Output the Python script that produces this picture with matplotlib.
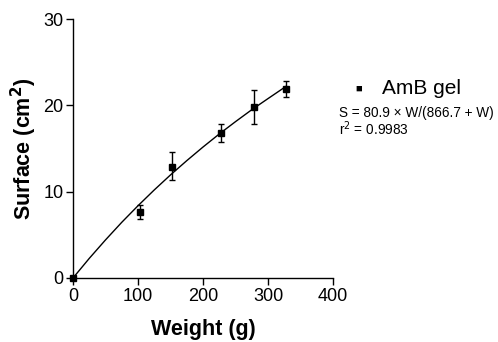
import matplotlib
matplotlib.use("Agg")
import matplotlib.pyplot as plt

plt.rcParams["font.family"] = ["Liberation Sans", "DejaVu Sans"]

# measured points
weight = [0, 103, 153, 228, 278, 328]
surface = [0.0, 7.6, 12.9, 16.8, 19.8, 21.9]
err_lo = [0.0, 0.8, 1.6, 1.0, 2.0, 0.9]
err_hi = [0.0, 0.8, 1.7, 1.0, 2.0, 0.9]

# fitted curve
fit_w = [0, 25, 50, 75, 100, 125, 150, 175, 200, 225, 250, 275, 300, 328]
fit_s = [0.0, 2.27, 4.41, 6.45, 8.37, 10.2, 11.94, 13.59, 15.17, 16.68, 18.11, 19.49, 20.78, 22.21]

fig = plt.figure(figsize=(4.98, 3.42), dpi=100)
ax = fig.add_axes([73 / 498, 1 - 278 / 342, 260 / 498, 259 / 342])

ax.plot(fit_w, fit_s, color="black", lw=1.0, zorder=2)
ax.errorbar(weight, surface, yerr=[err_lo, err_hi], fmt="s", color="black",
            ms=4.5, ecolor="black", elinewidth=1.0, capsize=2.3, capthick=1.0,
            zorder=3, clip_on=False)

ax.set_xlim(0, 400)
ax.set_ylim(0, 30)
ax.set_xticks([0, 100, 200, 300, 400])
ax.set_yticks([0, 10, 20, 30])
ax.spines["top"].set_visible(False)
ax.spines["right"].set_visible(False)
ax.spines["left"].set_linewidth(1.0)
ax.spines["bottom"].set_linewidth(1.0)
ax.tick_params(direction="out", length=5, width=1.0, labelsize=13, pad=2)
ax.set_xlabel("Weight (g)", fontsize=15.5, fontweight="bold", labelpad=10)
ax.set_ylabel("Surface (cm$^\\mathbf{2}$)", fontsize=15.5, fontweight="bold", labelpad=3)

fig.text(359 / 498, 1 - 89 / 342, "\u25a0", fontsize=8, ha="center", va="center")
fig.text(382 / 498, 1 - 88 / 342, "AmB gel", fontsize=15, ha="left", va="center")
fig.text(339 / 498, 1 - 113 / 342, "S = 80.9 \u00d7 W/(866.7 + W)", fontsize=9.8,
         ha="left", va="center")
fig.text(339 / 498, 1 - 129 / 342, "r$^2$ = 0.9983", fontsize=9.8, ha="left", va="center")

fig.savefig("out.png", dpi=100)
